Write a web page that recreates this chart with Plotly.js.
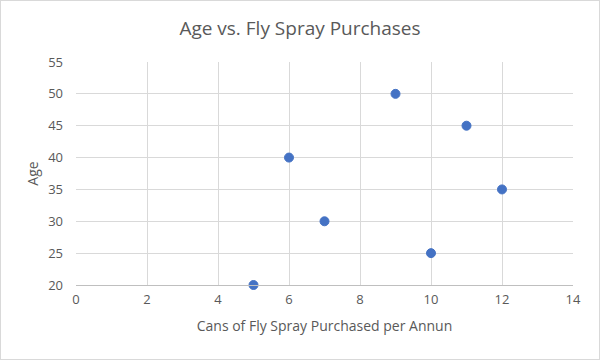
<!DOCTYPE html>
<html>
<head>
<meta charset="utf-8">
<script src="https://cdn.plot.ly/plotly-3.0.1.min.js"></script>
<style>
html,body{margin:0;padding:0;background:#fff;}
#wrap{position:relative;width:600px;height:360px;}
#chart{position:absolute;left:0;top:0;width:600px;height:360px;}
#frame{position:absolute;left:0;top:0;width:600px;height:360px;box-sizing:border-box;border:1px solid #d9d9d9;pointer-events:none;}
</style>
</head>
<body>
<div id="wrap"><div id="chart"></div><div id="frame"></div></div>
<script>
const cans = [5, 6, 7, 9, 10, 11, 12];
const ages = [20, 40, 30, 50, 25, 45, 35];
const xTicks = [0, 2, 4, 6, 8, 10, 12, 14];
const yTicks = [20, 25, 30, 35, 40, 45, 50, 55];

const fontFam = '"Open Sans", "Liberation Sans", sans-serif';
const trace = {
  x: cans, y: ages, type: 'scatter', mode: 'markers',
  marker: {color: '#4472C4', size: 9, line: {color: '#4472C4', width: 1}},
  cliponaxis: false, hoverinfo: 'x+y'
};
const layout = {
  width: 600, height: 360,
  margin: {l: 76, r: 27, t: 62, b: 75},
  paper_bgcolor: '#fff', plot_bgcolor: '#fff',
  showlegend: false,
  font: {family: fontFam, color: '#595959', size: 12},
  title: {text: 'Age vs. Fly Spray Purchases', font: {size: 19, color: '#595959', family: fontFam}, x: 0.5, xanchor: 'center', y: 0.922, yanchor: 'middle'},
  xaxis: {
    range: [0, 14], tickvals: xTicks, ticktext: xTicks.map(String),
    showgrid: true, gridcolor: '#d9d9d9', gridwidth: 1, zeroline: false,
    showline: true, linecolor: '#bfbfbf', linewidth: 1, ticks: '',
    tickfont: {size: 13, color: '#595959'}, ticklabelstandoff: 2,
    title: {text: 'Cans of Fly Spray Purchased per Annun', font: {size: 14, color: '#595959'}, standoff: 14}
  },
  yaxis: {
    range: [20, 55], tickvals: yTicks, ticktext: yTicks.map(String),
    showgrid: true, gridcolor: '#d9d9d9', gridwidth: 1, zeroline: false,
    showline: false, ticks: '',
    tickfont: {size: 13, color: '#595959'}, ticklabelstandoff: 12,
    title: {text: 'Age', font: {size: 14, color: '#595959'}, standoff: 6}
  }
};
Plotly.newPlot('chart', [trace], layout, {displayModeBar: false, staticPlot: true});
</script>
</body>
</html>
